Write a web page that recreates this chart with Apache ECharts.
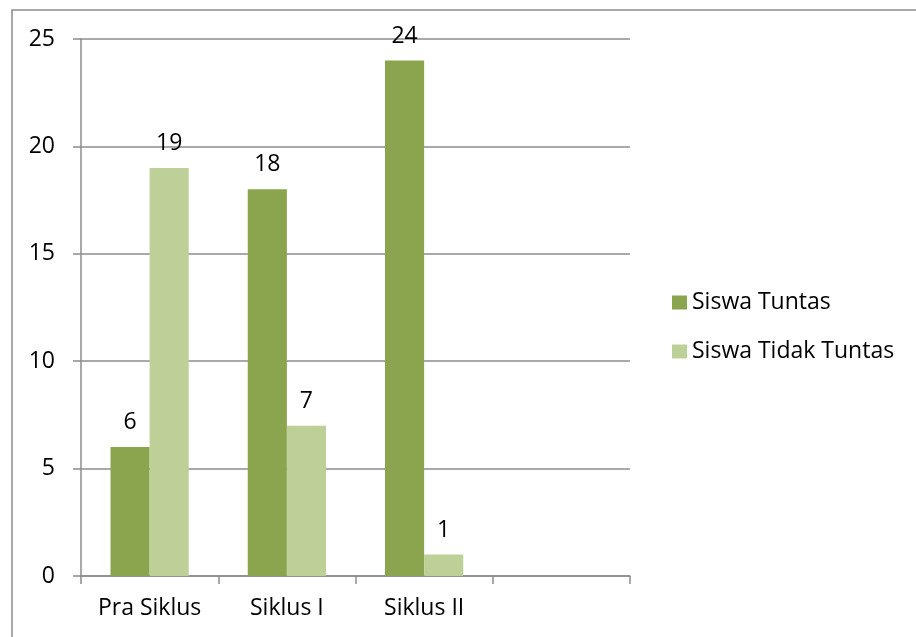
<!DOCTYPE html>
<html>
<head>
<meta charset="utf-8">
<title>Siswa Tuntas</title>
<script src="https://cdn.jsdelivr.net/npm/echarts@6/dist/echarts.min.js"></script>
<style>
  html, body { margin: 0; padding: 0; background: #fff; }
  #chart { width: 916px; height: 637px; }
</style>
</head>
<body>
<div id="chart"></div>
<script>
// categories (last slot is empty in the original chart)
const categories = ['Pra Siklus', 'Siklus I', 'Siklus II', '']
const tuntas = [6, 18, 24]
const tidakTuntas = [19, 7, 1]
const legendNames = ['Siswa Tuntas', 'Siswa Tidak Tuntas']
const yTicks = [0, 5, 10, 15, 20, 25]

const gray = '#8c8c8c'
const font = 'Open Sans'
const fs = 23

const chart = echarts.init(document.getElementById('chart'))

const option = {
  animation: false,
  color: ['#8aa54e', '#bcd098'],
  textStyle: { fontFamily: font },
  graphic: [{
    // frame of the chart object (top + left edge only visible)
    type: 'polyline',
    shape: { points: [[12, 637], [12, 10], [916, 10]] },
    style: { stroke: gray, lineWidth: 1.5, fill: null }
  }],
  grid: {
    left: 81,
    right: 286,
    top: 39,
    bottom: 61
  },
  legend: {
    orient: 'vertical',
    left: 667,
    top: 286,
    icon: 'rect',
    itemWidth: 15,
    itemHeight: 14,
    itemGap: 26,
    selectedMode: false,
    textStyle: { color: '#000', fontSize: fs, fontFamily: font, lineHeight: 23 },
    data: legendNames
  },
  xAxis: {
    type: 'category',
    data: categories,
    axisLine: { show: true, lineStyle: { color: gray, width: 1.5 } },
    axisTick: { show: true, length: 8, lineStyle: { color: gray, width: 1.5 } },
    axisLabel: { color: '#000', fontSize: fs, fontFamily: font, margin: 21, interval: 0 }
  },
  yAxis: {
    type: 'value',
    min: yTicks[0],
    max: yTicks[yTicks.length - 1],
    interval: 5,
    axisLine: { show: true, lineStyle: { color: gray, width: 1.5 } },
    axisTick: { show: true, length: 8, lineStyle: { color: gray, width: 1.5 } },
    axisLabel: { color: '#000', fontSize: fs, fontFamily: font, margin: 26 },
    splitLine: { show: true, lineStyle: { color: gray, width: 1.5 } }
  },
  series: [
    {
      name: legendNames[0],
      type: 'bar',
      data: tuntas,
      barGap: '0%',
      barCategoryGap: '43%',
      label: { show: true, position: 'top', distance: 13, color: '#000', fontSize: fs, fontFamily: font }
    },
    {
      name: legendNames[1],
      type: 'bar',
      data: tidakTuntas,
      barGap: '0%',
      barCategoryGap: '43%',
      label: { show: true, position: 'top', distance: 13, color: '#000', fontSize: fs, fontFamily: font }
    }
  ]
}

chart.setOption(option)
</script>
</body>
</html>
